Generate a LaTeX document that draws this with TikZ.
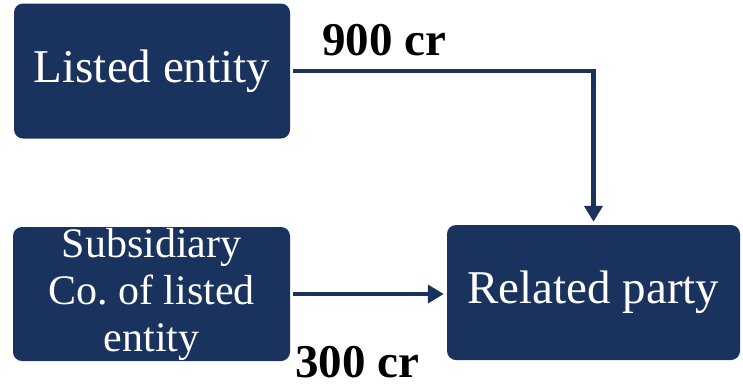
\documentclass[tikz,border=0pt]{standalone}
\usepackage{fontspec}
\setmainfont{Liberation Serif}
\usetikzlibrary{arrows.meta}
\definecolor{navy}{HTML}{1A325E}
\frenchspacing
\begin{document}
\begin{tikzpicture}[x=1pt,y=-1pt,
  box/.style={fill=navy, draw=none, rounded corners=9pt, text=white, align=center,
    inner sep=0pt, font=\fontsize{47}{47}\selectfont},
  conn/.style={draw=navy, line width=4.5pt, -{Triangle[width=18pt,length=16pt]}, shorten <=3pt, shorten >=3pt},
  lbl/.style={font=\fontsize{47}{47}\selectfont\bfseries, inner sep=0pt, anchor=base west}]
\useasboundingbox (0,0) rectangle (743,383);
\node[box, minimum width=276pt, minimum height=135pt] (le) at (152,71) {Listed entity};
\node[box, minimum width=277pt, minimum height=134pt, font=\fontsize{42}{47}\selectfont] (sub) at (151.5,294) {Subsidiary\\Co. of listed\\entity};
\node[box, minimum width=293pt, minimum height=135pt] (rp) at (593.5,292.5) {Related party};
\draw[conn] (le.east) -| (rp.north);
\draw[conn] (sub.east) -- (sub.east -| rp.west);
\node[lbl] (l900) at (322,55) {900 cr};
\node[lbl] (l300) at (295,377) {300 cr};
\end{tikzpicture}
\end{document}
